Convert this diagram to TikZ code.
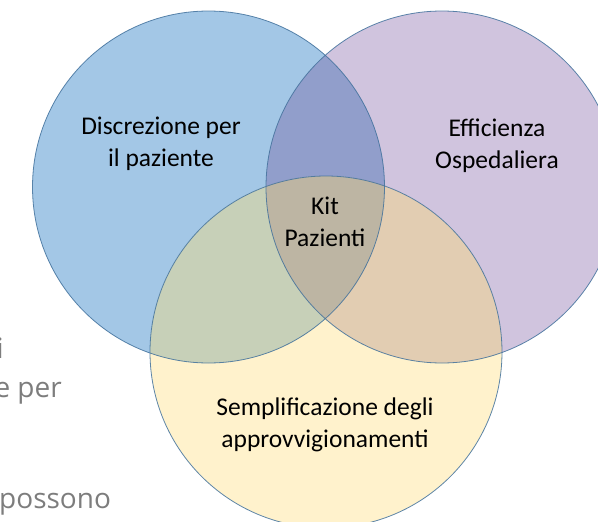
\documentclass[tikz,border=0pt]{standalone}
\usepackage{fontspec}
\setmainfont{Carlito}
\newfontfamily\backfont{Open Sans}
\usepackage{tikz}
\usetikzlibrary{positioning,calc}

\definecolor{bluefill}{RGB}{163,199,230}
\definecolor{purplefill}{RGB}{208,196,222}
\definecolor{yellowfill}{RGB}{255,242,204}
\definecolor{bpfill}{RGB}{145,158,203}
\definecolor{byfill}{RGB}{199,208,184}
\definecolor{pyfill}{RGB}{226,205,178}
\definecolor{midfill}{RGB}{189,181,163}
\definecolor{ringline}{RGB}{65,113,156}
\definecolor{backgrey}{RGB}{125,125,125}

\newcommand{\rad}{176pt}

\begin{document}
\begin{tikzpicture}[x=1pt, y=-1pt,
  label/.style={align=center, font=\fontsize{25.5}{32}\selectfont, text=black},
  backtext/.style={font=\backfont\fontsize{28}{30}\selectfont, text=backgrey, inner sep=0pt},
  ring/.style={draw=ringline, line width=0.8pt, draw opacity=0.85}]
\useasboundingbox (0,0) rectangle (598,522);
\clip (0,0) rectangle (598,522);

% centres of the three sets
\coordinate (blue) at (208.5,187);
\coordinate (purple) at (442,187);
\coordinate (yellow) at (326,352);

% text of the slide behind the diagram
\node[backtext, anchor=base east] (back1) at (4,358) {i};
\node[backtext, anchor=base east] (back2) at (62,397) {e per};
\node[backtext, anchor=base west] (back3) at (-1,508) {possono};

% plain sets
\fill[bluefill] (blue) circle[radius=\rad];
\fill[purplefill] (purple) circle[radius=\rad];
\fill[yellowfill] (yellow) circle[radius=\rad];

% overlaps
\begin{scope}
\clip (blue) circle[radius=\rad];
\fill[bpfill] (purple) circle[radius=\rad];
\fill[byfill] (yellow) circle[radius=\rad];
\end{scope}
\begin{scope}
\clip (purple) circle[radius=\rad];
\fill[pyfill] (yellow) circle[radius=\rad];
\end{scope}
\begin{scope}
\clip (blue) circle[radius=\rad];
\clip (purple) circle[radius=\rad];
\fill[midfill] (yellow) circle[radius=\rad];
\end{scope}

\foreach \set in {blue,purple,yellow} \draw[ring] (\set) circle[radius=\rad];

\node[label] (discr) at (161,144) {Discrezione per\\il paziente};
\node[label] (effic) at (497,146) {Efficienza\\Ospedaliera};
\node[label] (kit) at (325,222) {Kit\\Pazienti};
\node[label] (sempl) at (325,425) {Semplificazione degli\\approvvigionamenti};
\end{tikzpicture}
\end{document}
